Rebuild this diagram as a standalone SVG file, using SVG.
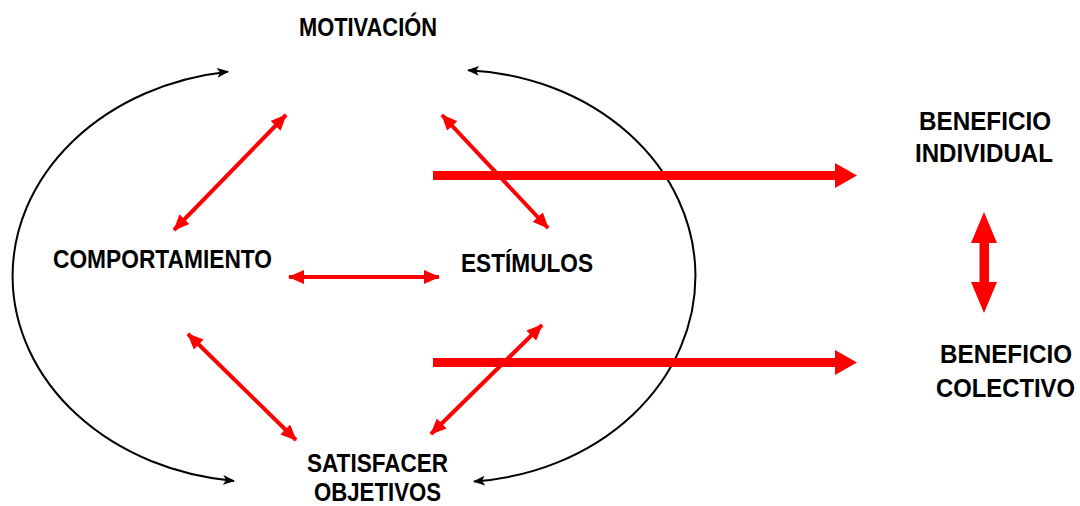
<svg xmlns="http://www.w3.org/2000/svg" width="1080" height="506" viewBox="0 0 1080 506">
  <defs>
    <style>
      .lbl { font-family: "Liberation Sans", Arial, sans-serif; font-weight: bold; font-size: 25px; fill: #000; }
      .arc { fill: none; stroke: #000; stroke-width: 2; }
      .thin { stroke: #FF0000; stroke-width: 4; fill: none; }
      .thick { fill: #FF0000; stroke: none; }
    </style>
    <marker id="blk" viewBox="0 0 12 10" refX="11" refY="5" markerWidth="12" markerHeight="10" markerUnits="userSpaceOnUse" orient="auto-start-reverse">
      <path d="M0,0 L12,5 L0,10 L3,5 z" fill="#000"/>
    </marker>
    <marker id="red" viewBox="0 0 16 14" refX="15" refY="7" markerWidth="16" markerHeight="14" markerUnits="userSpaceOnUse" orient="auto-start-reverse">
      <path d="M0,0 L16,7 L0,14 z" fill="#FF0000"/>
    </marker>
  </defs>
  <rect width="1080" height="506" fill="#FFFFFF"/>

  <g id="connectors">
    <path class="arc" d="M228,71.7 A247,206 0 0,0 234,480.9" marker-start="url(#blk)" marker-end="url(#blk)"/>
    <path class="arc" d="M468,70.3 A240,206 0 0,1 474,481.4" marker-start="url(#blk)" marker-end="url(#blk)"/>

    <line class="thin" x1="286" y1="115" x2="174" y2="230" marker-start="url(#red)" marker-end="url(#red)"/>
    <line class="thin" x1="442" y1="115" x2="548" y2="228" marker-start="url(#red)" marker-end="url(#red)"/>
    <line class="thin" x1="289" y1="277" x2="439" y2="277" marker-start="url(#red)" marker-end="url(#red)"/>
    <line class="thin" x1="188" y1="334" x2="296" y2="440" marker-start="url(#red)" marker-end="url(#red)"/>
    <line class="thin" x1="542" y1="325" x2="431" y2="434" marker-start="url(#red)" marker-end="url(#red)"/>

    <polygon class="thick" points="433,171 835,171 835,163 857,175.5 835,188 835,180 433,180"/>
    <polygon class="thick" points="433,358 835,358 835,350 857,362.5 835,375 835,367 433,367"/>
    <polygon class="thick" points="984,212 997,243 989,243 989,282 997,282 984,313 971,282 979.5,282 979.5,243 971,243"/>
  </g>

  <g id="motivacion"><text class="lbl" x="299" y="36" textLength="138" lengthAdjust="spacingAndGlyphs">MOTIVACIÓN</text></g>
  <g id="comportamiento"><text class="lbl" x="53" y="268" textLength="219" lengthAdjust="spacingAndGlyphs">COMPORTAMIENTO</text></g>
  <g id="estimulos"><text class="lbl" x="461" y="272" textLength="132" lengthAdjust="spacingAndGlyphs">ESTÍMULOS</text></g>
  <g id="satisfacer">
    <text class="lbl" x="307" y="472" textLength="141" lengthAdjust="spacingAndGlyphs">SATISFACER</text>
    <text class="lbl" x="314" y="501" textLength="127" lengthAdjust="spacingAndGlyphs">OBJETIVOS</text>
  </g>
  <g id="beneficio-individual">
    <text class="lbl" x="919" y="130" textLength="132" lengthAdjust="spacingAndGlyphs">BENEFICIO</text>
    <text class="lbl" x="915" y="162" textLength="138" lengthAdjust="spacingAndGlyphs">INDIVIDUAL</text>
  </g>
  <g id="beneficio-colectivo">
    <text class="lbl" x="940" y="363" textLength="132" lengthAdjust="spacingAndGlyphs">BENEFICIO</text>
    <text class="lbl" x="936" y="397" textLength="139" lengthAdjust="spacingAndGlyphs">COLECTIVO</text>
  </g>
</svg>
